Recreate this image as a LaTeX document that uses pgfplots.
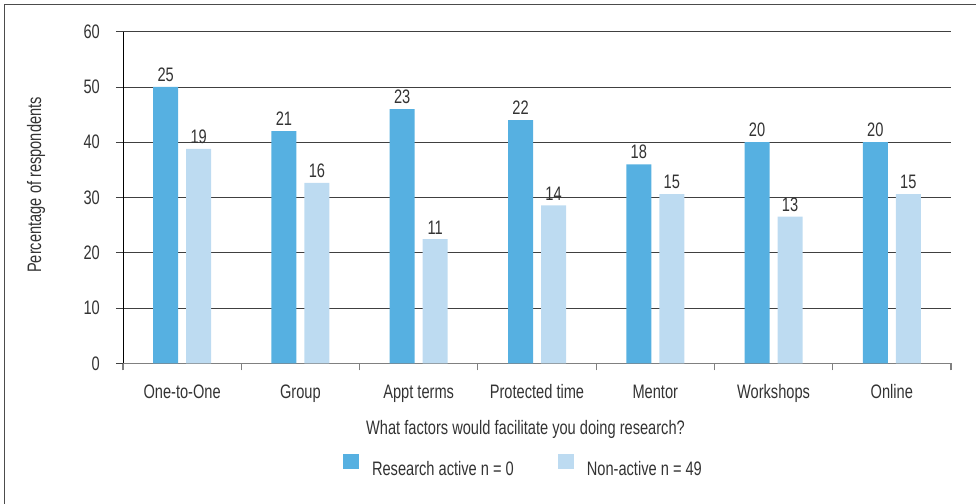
\documentclass[border=0pt]{standalone}
\usepackage{fontspec}
\setmainfont{Liberation Sans}[FakeStretch=0.75]
\usepackage{pgfplots}
\pgfplotsset{compat=1.18}
\definecolor{darkbar}{HTML}{56B0E1}
\definecolor{lightbar}{HTML}{BDDBF1}
\definecolor{txt}{HTML}{333333}
\begin{document}
\begin{tikzpicture}
\useasboundingbox (0,0) rectangle (976bp,504bp);
\begin{axis}[
  at={(123bp,140.7bp)}, anchor=south west,
  scale only axis, width=828bp, height=331.6bp,
  font=\fontsize{19.5bp}{23bp}\selectfont,
  /pgf/number format/assume math mode=true,
  ybar=8bp, bar width=25bp,
  xmin=-0.5, xmax=6.5, ymin=0, ymax=60,
  ytick={0,10,...,60},
  xtick={0,...,6},
  xticklabels={One-to-One,Group,Appt terms,Protected time,Mentor,Workshops,Online},
  major x tick style={draw=none},
  minor xtick={-0.5,0.5,...,6.5},
  minor x tick style={draw=gray, line width=1.2bp},
  minor tick length=7bp,
  major tick length=7bp,
  tick align=outside,
  ytick style={draw=black!75, line width=0.9bp},
  ymajorgrids, grid style={draw=black!75, line width=0.9bp},
  axis x line*=bottom, axis y line*=left,
  x axis line style={draw=gray, line width=1.4bp},
  y axis line style={draw=black, line width=1bp},
  tick label style={text=txt},
  yticklabel style={anchor=east, inner sep=0pt, xshift=-16bp},
  xticklabel style={anchor=north, inner sep=0pt, text height=13.5bp, text depth=4bp, yshift=-14.7bp},
  xlabel={What factors would facilitate you doing research?},
  ylabel={Percentage of respondents},
  xlabel style={at={(axis description cs:0.4861,-0.2162)}, anchor=base, text=txt, inner sep=0pt},
  ylabel style={at={(axis description cs:-0.0990,0.5377)}, anchor=base, text=txt, inner sep=0pt},
  nodes near coords,
  point meta=explicit symbolic,
  nodes near coords style={text=txt, anchor=south, inner sep=0pt, yshift=5bp},
  legend columns=2,
  legend style={at={(axis description cs:0.2657,-0.3082)}, anchor=west, draw=none, fill=none,
    inner sep=0pt, outer sep=0pt, nodes={inner sep=0pt, text=txt},
    /tikz/every odd column/.append style={column sep=13bp},
    /tikz/every even column/.append style={column sep=44bp}},
  legend image code/.code={\fill[#1] (0bp,0bp) rectangle (16bp,15bp);},
]
\addplot[fill=darkbar, draw=none] coordinates {
  (0,50) [25] (1,42) [21] (2,46) [23] (3,44) [22] (4,36) [18] (5,40) [20] (6,40) [20]};
\addplot[fill=lightbar, draw=none] coordinates {
  (0,38.78) [19] (1,32.65) [16] (2,22.45) [11] (3,28.57) [14] (4,30.61) [15] (5,26.53) [13] (6,30.61) [15]};
\legend{Research active n = 0, Non-active n = 49}
\end{axis}
\draw[black!70, line width=1.3bp] (4.5bp,0bp) -- (4.5bp,499.5bp) -- (976bp,499.5bp);
\end{tikzpicture}
\end{document}
